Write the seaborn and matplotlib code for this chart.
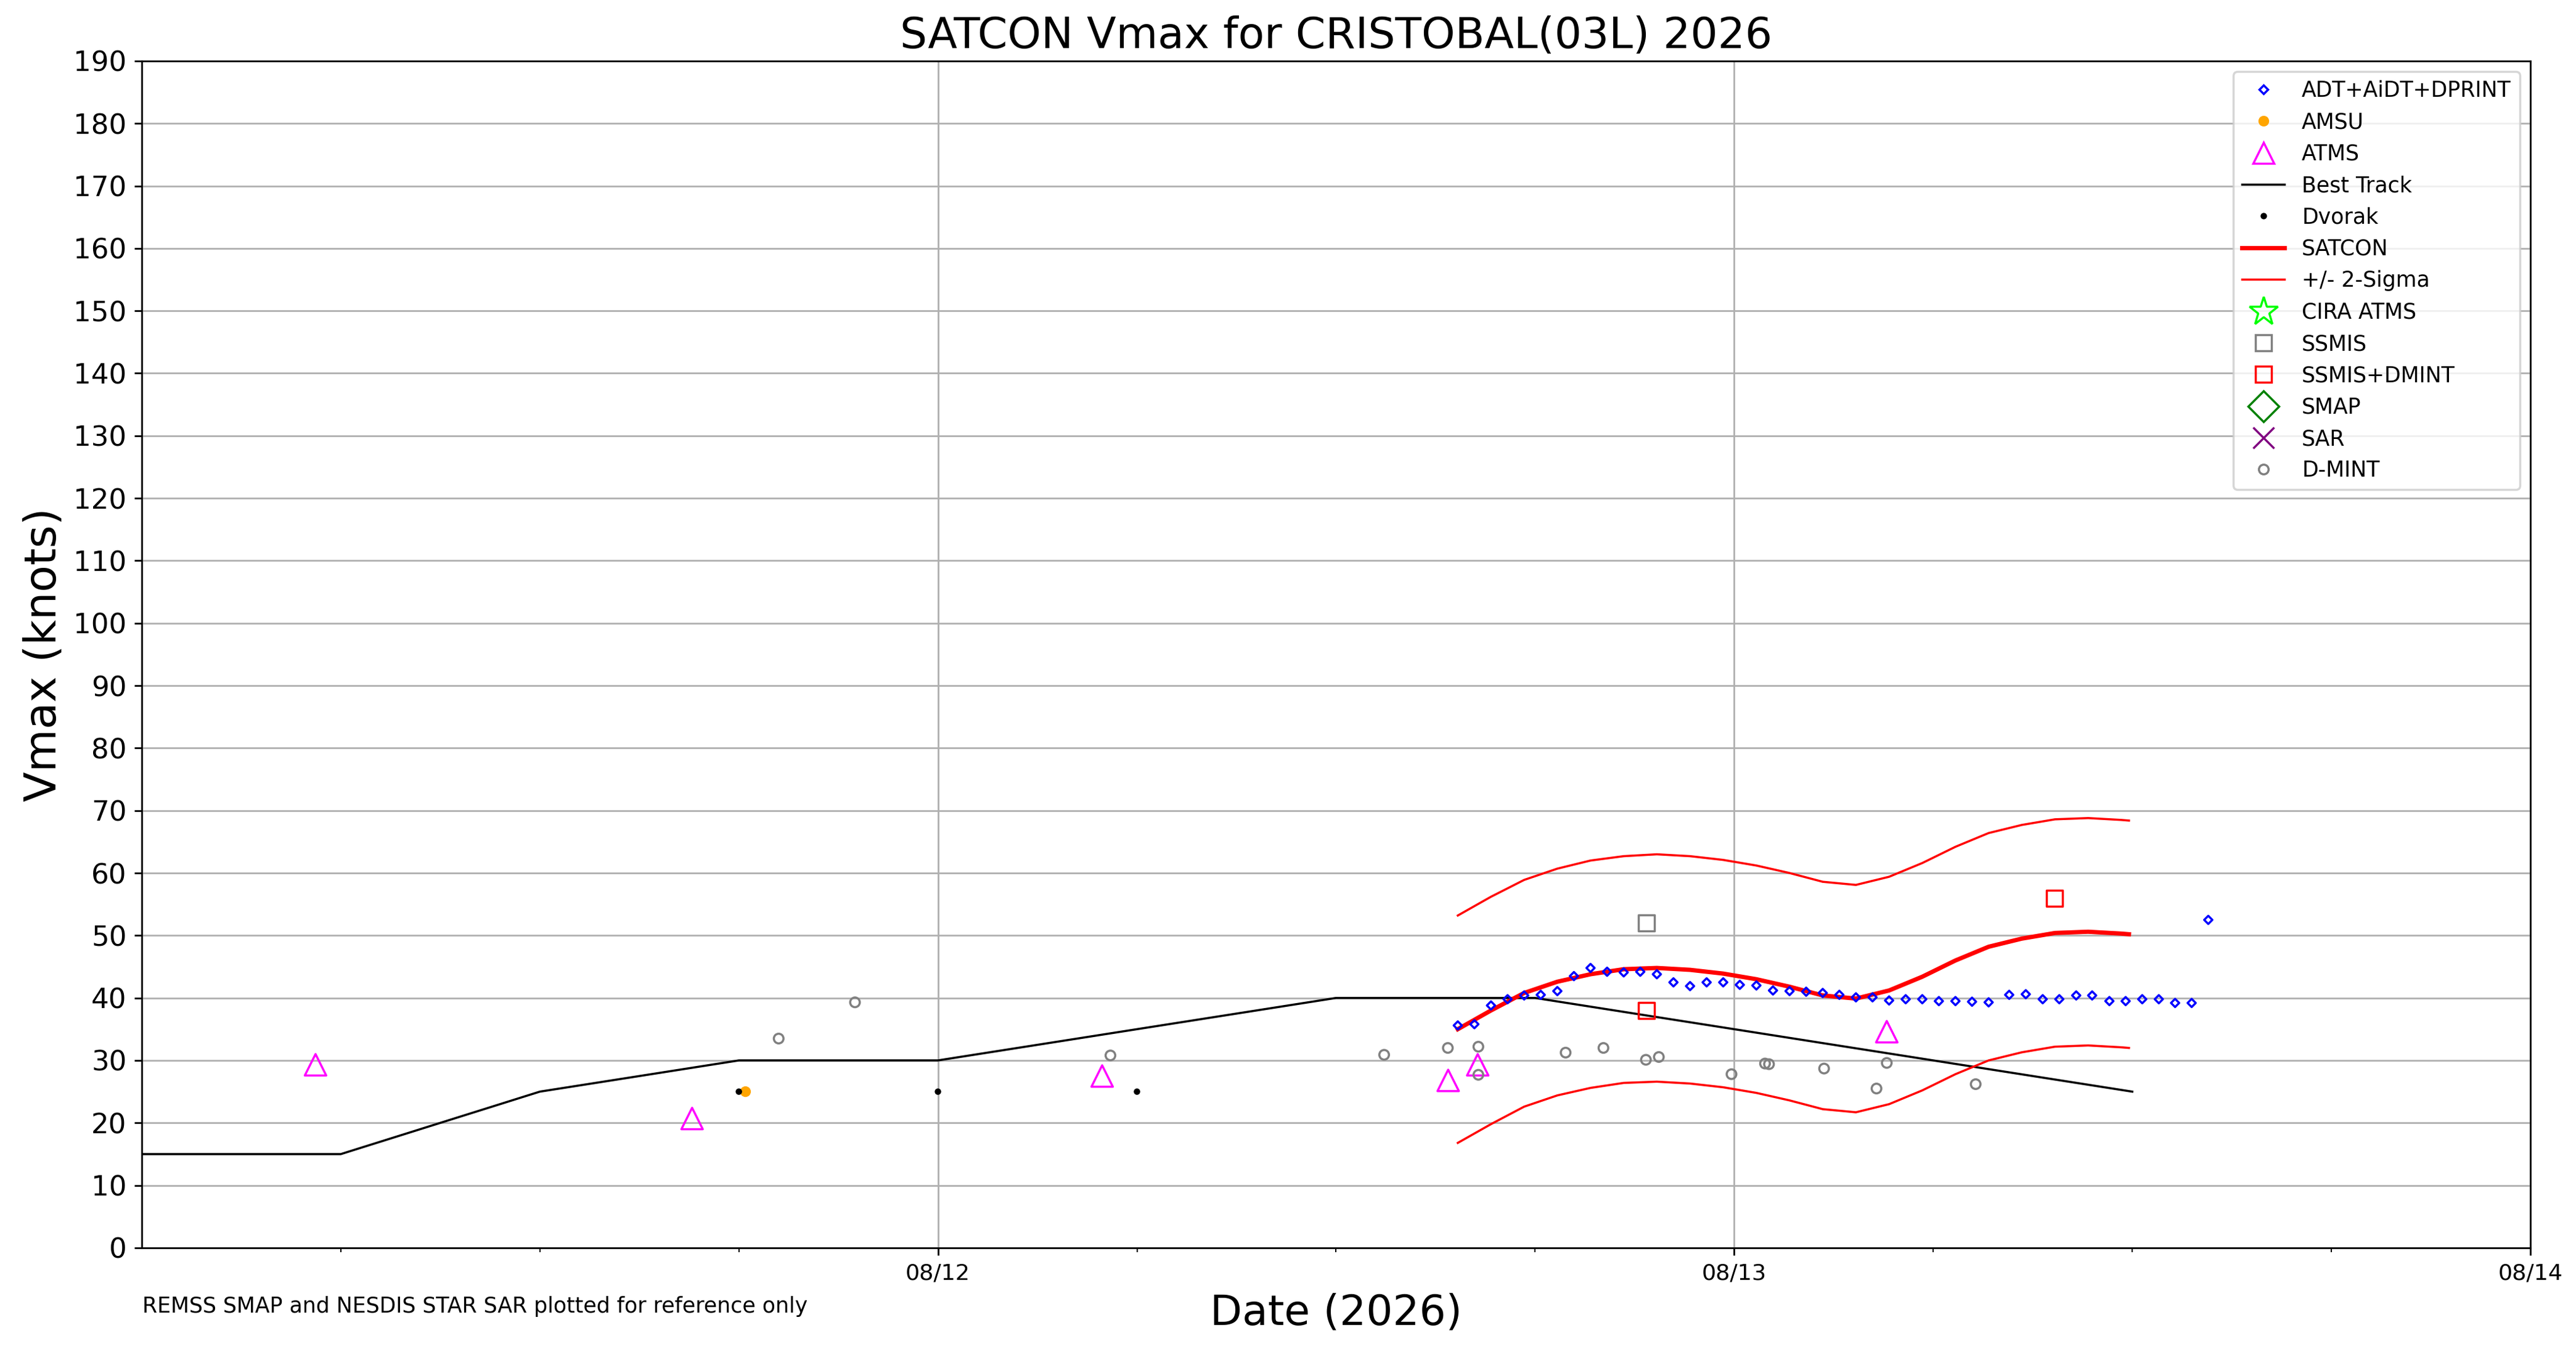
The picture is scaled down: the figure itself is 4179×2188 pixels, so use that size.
import matplotlib
matplotlib.use('Agg')
import matplotlib.pyplot as plt
import matplotlib.dates as mdates
from matplotlib.lines import Line2D
import pandas as pd
import seaborn as sns

base_time = pd.Timestamp('2026-08-11 00:00')

# all times are hours after 08/11 00Z, intensities in knots
best_hours = [0, 6, 12, 18, 24, 30, 36, 42, 48, 54, 60]
best_vmax = [15, 15, 25, 30, 30, 35, 40, 40, 35, 30, 25]

dvorak_hours = [18, 24, 30]
dvorak_vmax = [25, 25, 25]

amsu_hours = [18.2]
amsu_vmax = [25]

atms_hours = [5.24, 16.59, 28.95, 39.38, 40.27, 52.60]
atms_vmax = [29.3, 20.7, 27.5, 26.8, 29.3, 34.6]

adt_hours = [39.67, 40.17, 40.67, 41.17, 41.67, 42.17, 42.67, 43.17, 43.67, 44.17,
             44.67, 45.17, 45.67, 46.17, 46.67, 47.17, 47.67, 48.17, 48.67, 49.17,
             49.67, 50.17, 50.67, 51.17, 51.67, 52.17, 52.67, 53.17, 53.67, 54.17,
             54.67, 55.17, 55.67, 56.29, 56.79, 57.30, 57.80, 58.31, 58.79, 59.31,
             59.80, 60.30, 60.80, 61.29, 61.79, 62.29]
adt_vmax = [35.6, 35.8, 38.8, 39.8, 40.4, 40.5, 41.1, 43.5, 44.8, 44.2,
            44.1, 44.2, 43.8, 42.5, 41.9, 42.5, 42.5, 42.1, 42.0, 41.2,
            41.1, 41.0, 40.8, 40.5, 40.1, 40.1, 39.6, 39.8, 39.8, 39.5,
            39.5, 39.4, 39.3, 40.5, 40.6, 39.8, 39.8, 40.4, 40.4, 39.5,
            39.5, 39.8, 39.8, 39.2, 39.2, 52.5]

satcon_hours = [39.67, 40.67, 41.67, 42.67, 43.67, 44.67, 45.67, 46.67, 47.67, 48.67, 49.67,
                50.67, 51.67, 52.67, 53.67, 54.67, 55.67, 56.67, 57.67, 58.67, 59.67, 59.9]
satcon_vmax = [35.0, 38.0, 40.8, 42.6, 43.8, 44.6, 44.8, 44.5, 43.9, 43.0, 41.8,
               40.4, 39.9, 41.2, 43.4, 46.0, 48.2, 49.5, 50.4, 50.6, 50.3, 50.2]
satcon_upper = [53.2, 56.2, 58.9, 60.7, 62.0, 62.7, 63.0, 62.7, 62.1, 61.2, 60.0,
                58.6, 58.1, 59.4, 61.6, 64.2, 66.4, 67.7, 68.6, 68.8, 68.5, 68.4]
satcon_lower = [16.8, 19.8, 22.6, 24.4, 25.6, 26.4, 26.6, 26.3, 25.7, 24.8, 23.6,
                22.2, 21.7, 23.0, 25.2, 27.8, 30.0, 31.3, 32.2, 32.4, 32.1, 32.0]

ssmis_hours = [45.35]
ssmis_vmax = [52.0]

ssmis_dmint_hours = [45.35, 57.65]
ssmis_dmint_vmax = [38.0, 56.0]

dmint_hours = [19.2, 21.5, 29.2, 37.45, 39.37, 40.29, 40.29, 42.92, 44.06, 45.34,
               45.73, 47.92, 48.93, 49.05, 50.71, 52.29, 52.60, 55.28]
dmint_vmax = [33.5, 39.3, 30.8, 30.9, 32.0, 32.2, 27.7, 31.25, 32.0, 30.1,
              30.55, 27.8, 29.5, 29.4, 28.7, 25.5, 29.6, 26.2]


def frame(hours, vmax):
    times = base_time + pd.to_timedelta(hours, unit='h')
    return pd.DataFrame({'time': times, 'vmax': vmax})


def open_points(ax, hours, vmax, marker, color, ms, mew=1.0):
    sns.scatterplot(data=frame(hours, vmax), x='time', y='vmax', ax=ax, marker=marker,
                    s=ms ** 2, color=color, facecolors='none', edgecolors=color,
                    linewidths=mew, legend=False, zorder=3)


def filled_points(ax, hours, vmax, marker, color, ms):
    sns.scatterplot(data=frame(hours, vmax), x='time', y='vmax', ax=ax, marker=marker,
                    s=ms ** 2, color=color, edgecolors='none', linewidths=0,
                    legend=False, zorder=3)


dpi = 250
fig, ax = plt.subplots(figsize=(4179 / dpi, 2188 / dpi), dpi=dpi)
fig.subplots_adjust(left=0.0550, right=0.9823, bottom=0.0750, top=0.9548)

open_points(ax, adt_hours, adt_vmax, 'D', 'blue', 2.7)
filled_points(ax, amsu_hours, amsu_vmax, 'o', 'orange', 5)
open_points(ax, atms_hours, atms_vmax, '^', 'magenta', 10)
sns.lineplot(data=frame(best_hours, best_vmax), x='time', y='vmax', ax=ax,
             color='black', linewidth=1, legend=False)
filled_points(ax, dvorak_hours, dvorak_vmax, 'o', 'black', 3)
sns.lineplot(data=frame(satcon_hours, satcon_vmax), x='time', y='vmax', ax=ax,
             color='red', linewidth=2, legend=False)
sns.lineplot(data=frame(satcon_hours, satcon_upper), x='time', y='vmax', ax=ax,
             color='red', linewidth=1, legend=False)
sns.lineplot(data=frame(satcon_hours, satcon_lower), x='time', y='vmax', ax=ax,
             color='red', linewidth=1, legend=False)
open_points(ax, ssmis_hours, ssmis_vmax, 's', 'gray', 7.5)
open_points(ax, ssmis_dmint_hours, ssmis_dmint_vmax, 's', 'red', 7.5)
open_points(ax, dmint_hours, dmint_vmax, 'o', 'gray', 4.5)

ax.set_xlim(base_time, base_time + pd.Timedelta(days=3))
ax.set_ylim(0, 190)
ax.set_yticks(range(0, 191, 10))
ax.set_xticks([base_time + pd.Timedelta(days=d) for d in (1, 2, 3)])
ax.xaxis.set_major_formatter(mdates.DateFormatter('%m/%d'))
ax.xaxis.set_minor_locator(mdates.HourLocator(byhour=[6, 12, 18]))
ax.tick_params(axis='y', labelsize=13)
ax.tick_params(axis='x', labelsize=10.5)
ax.grid(True, which='major', color='#b0b0b0', linewidth=0.8)

ax.set_title('SATCON Vmax for CRISTOBAL(03L) 2026', fontsize=20)
ax.set_xlabel('Date (2026)', fontsize=19.5)
ax.set_ylabel('Vmax (knots)', fontsize=20.5)

handles = [
    Line2D([], [], ls='', marker='D', mfc='none', mec='blue', ms=2.7, mew=1, label='ADT+AiDT+DPRINT'),
    Line2D([], [], ls='', marker='o', mfc='orange', mec='orange', ms=5, mew=0, label='AMSU'),
    Line2D([], [], ls='', marker='^', mfc='none', mec='magenta', ms=10, mew=1, label='ATMS'),
    Line2D([], [], color='black', lw=1, label='Best Track'),
    Line2D([], [], ls='', marker='o', mfc='black', mec='black', ms=3, mew=0, label='Dvorak'),
    Line2D([], [], color='red', lw=2, label='SATCON'),
    Line2D([], [], color='red', lw=1, label='+/- 2-Sigma'),
    Line2D([], [], ls='', marker='*', mfc='none', mec='lime', ms=14, mew=1, label='CIRA ATMS'),
    Line2D([], [], ls='', marker='s', mfc='none', mec='gray', ms=7.5, mew=1, label='SSMIS'),
    Line2D([], [], ls='', marker='s', mfc='none', mec='red', ms=7.5, mew=1, label='SSMIS+DMINT'),
    Line2D([], [], ls='', marker='D', mfc='none', mec='green', ms=10, mew=1, label='SMAP'),
    Line2D([], [], ls='', marker='x', color='purple', ms=10, mew=1, label='SAR'),
    Line2D([], [], ls='', marker='o', mfc='none', mec='gray', ms=4.5, mew=1, label='D-MINT'),
]
ax.legend(handles=handles, loc='upper right', fontsize=10)

fig.text(0.0552, 0.027, 'REMSS SMAP and NESDIS STAR SAR plotted for reference only',
         fontsize=10, va='baseline')

fig.savefig('out.png', dpi=dpi)
